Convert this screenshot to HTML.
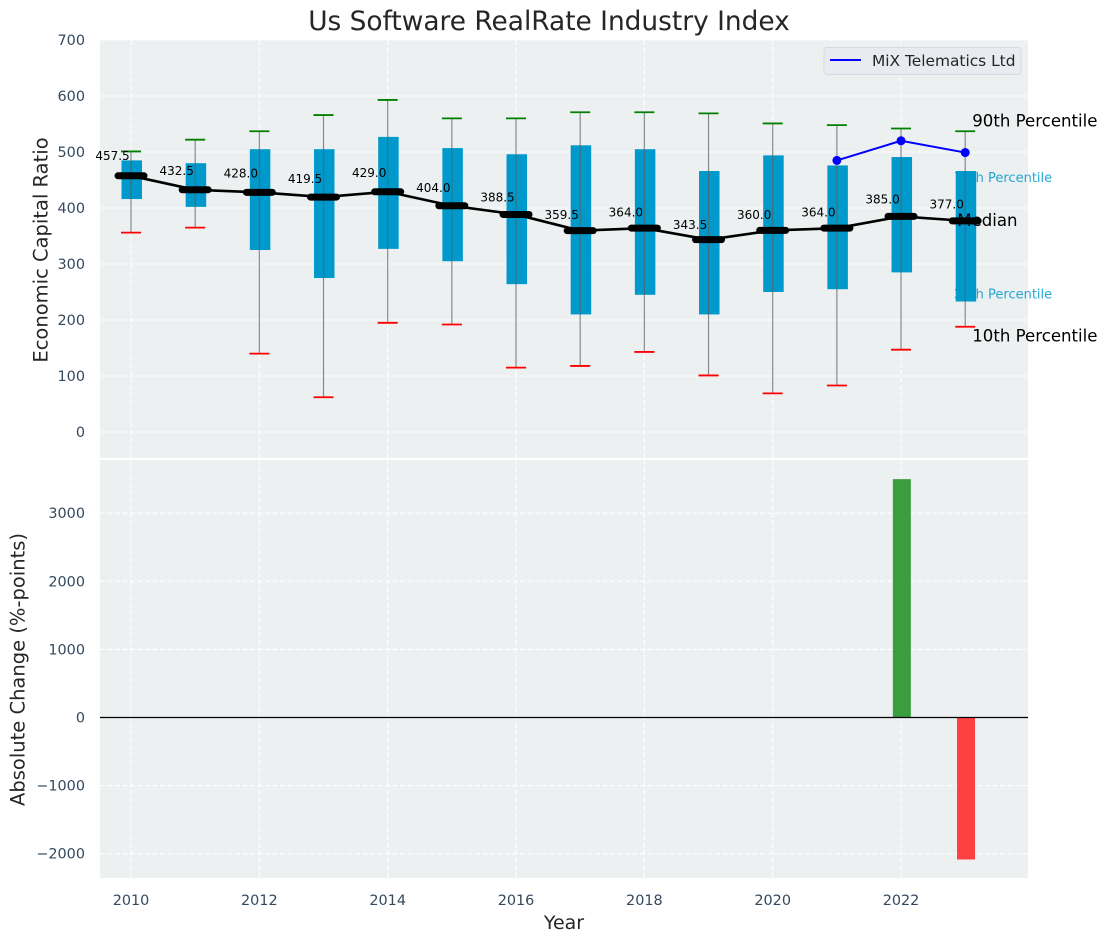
<!DOCTYPE html>
<html>
<head>
<meta charset="utf-8">
<title>Us Software RealRate Industry Index</title>
<style>
html,body{margin:0;padding:0;background:#fff;width:1107px;height:942px;overflow:hidden}
svg{display:block}
text{font-family:"DejaVu Sans","Liberation Sans",sans-serif}
</style>
</head>
<body>
<svg id="chart" width="1107" height="942" viewBox="0 0 1107 942" xmlns="http://www.w3.org/2000/svg">
<rect x="100" y="40" width="928" height="418" fill="#ecf0f1"/>
<rect x="100" y="460" width="928" height="418" fill="#ecf0f1"/>
<g id="grid"></g>
<g id="under"></g>
<g id="boxes"></g>
<g id="overlay"></g>
<text x="549" y="30" text-anchor="middle" font-size="26.4" fill="#262626">Us Software RealRate Industry Index</text>
<text x="564" y="929" text-anchor="middle" font-size="19" fill="#262626">Year</text>
<text transform="translate(47.5,250) rotate(-90)" text-anchor="middle" font-size="19.5" fill="#262626">Economic Capital Ratio</text>
<text transform="translate(24.5,669.5) rotate(-90)" text-anchor="middle" font-size="19.5" fill="#262626">Absolute Change (%-points)</text>
<g>
<rect x="824" y="47.5" width="197" height="27" rx="3" fill="#e9ebf0" stroke="#d6d9e0"/>
<line x1="830" x2="861" y1="60" y2="60" stroke="#0000ff" stroke-width="2"/>
<text x="872" y="66" font-size="15.4" fill="#262626">MiX Telematics Ltd</text>
</g>
</svg>
<script>
var years = [2010,2011,2012,2013,2014,2015,2016,2017,2018,2019,2020,2021,2022,2023];
var p90 = [501,522,537,566,593,560,560,571,571,569,551,548,542,537];
var q3 = [485,480,505,505,527,507,496,512,505,466,494,476,491,466];
var medians = [457.5,432.5,428,419.5,429,404,388.5,359.5,364,343.5,360,364,385,377];
var q1 = [416,402,325,275,327,305,264,210,245,210,250,255,285,233];
var p10 = [356,365,140,62,195,192,115,118,143,101,69,83,147,188];
var mixYears = [2021,2022,2023];
var mixValues = [485,520,499];
var changeYears = [2022,2023];
var changeValues = [3500,-2085];
var topTicks = [0,100,200,300,400,500,600,700];
var bottomTicks = [-2000,-1000,0,1000,2000,3000];
var xTicks = [2010,2012,2014,2016,2018,2020,2022];

function xScale(v){ return 131 + (v - 2010) * 64.17; }
function yTop(v){ return 432 - v * 0.56; }
function yBottom(v){ return 717.5 - v * 0.0681; }

var NS = 'http://www.w3.org/2000/svg';
function make(parent, tag, attrs, txt){
  var el = document.createElementNS(NS, tag);
  for (var k in attrs) el.setAttribute(k, attrs[k]);
  if (txt !== undefined) el.textContent = txt;
  document.getElementById(parent).appendChild(el);
  return el;
}
var el, i;
var GRID = {stroke:'#ffffff','stroke-width':1.1,'stroke-dasharray':'5 2.5','stroke-opacity':0.95};
function gridAttrs(a){ for (var k in GRID) a[k] = GRID[k]; return a; }

xTicks.forEach(function(t){
  var x = xScale(t);
  el = make('grid','line',gridAttrs({x1:x,x2:x,y1:40,y2:458}));
  
  
  el = make('grid','line',gridAttrs({x1:x,x2:x,y1:460,y2:878}));
  
  
  el = make('grid','text',{x:x,y:905,'text-anchor':'middle','font-size':14.4,fill:'#34495e'},String(t));
  
  
});
topTicks.forEach(function(t){
  var y = yTop(t);
  el = make('grid','line',gridAttrs({x1:100,x2:1028,y1:y,y2:y}));
  
  
  el = make('grid','text',{x:85,y:y+5,'text-anchor':'end','font-size':14.4,fill:'#34495e'},String(t));
  
  
});
bottomTicks.forEach(function(t){
  var y = yBottom(t);
  el = make('grid','line',gridAttrs({x1:100,x2:1028,y1:y,y2:y}));
  
  
  el = make('grid','text',{x:85,y:y+5,'text-anchor':'end','font-size':14.4,fill:'#34495e'},(t < 0 ? '\u2212' + Math.abs(t) : String(t)));
  
  
});

/* percentile annotations; the two cyan ones sit behind the last box */
el = make('under','text',{x:954,y:yTop(q3[13])+11,'font-size':13,fill:'#0099cc','fill-opacity':0.85},'75th Percentile');


el = make('under','text',{x:954,y:yTop(q1[13])-3,'font-size':13,fill:'#0099cc','fill-opacity':0.85},'25th Percentile');



for (i = 0; i < years.length; i++){
  var x = xScale(years[i]);
  el = make('boxes','rect',{x:x-9.5,y:yTop(q3[i]),width:20.5,height:yTop(q1[i])-yTop(q3[i]),fill:'#0099cc'});
  
  
  el = make('boxes','line',{x1:x,x2:x,y1:yTop(p10[i]),y2:yTop(p90[i]),stroke:'#555f60','stroke-opacity':0.7,'stroke-width':1.2});
  
  
  el = make('boxes','line',{x1:x-10,x2:x+10,y1:yTop(p90[i]),y2:yTop(p90[i]),stroke:'#008000','stroke-width':1.8});
  
  
  el = make('boxes','line',{x1:x-10,x2:x+10,y1:yTop(p10[i]),y2:yTop(p10[i]),stroke:'#ff0000','stroke-width':1.8});
  
  
}

var medianPts = years.map(function(y,j){ return xScale(y) + ',' + yTop(medians[j]); }).join(' ');
el = make('overlay','polyline',{points:medianPts,fill:'none',stroke:'#000000','stroke-width':2.6});


for (i = 0; i < years.length; i++){
  var mx = xScale(years[i]), my = yTop(medians[i]);
  el = make('overlay','line',{x1:mx-13,x2:mx+13,y1:my,y2:my,stroke:'#000000','stroke-width':7,'stroke-linecap':'round'});
  
  
  el = make('overlay','text',{x:mx-18.5,y:yTop(medians[i]*1.08)+4.5,'text-anchor':'middle','font-size':12,fill:'#000000'},medians[i].toFixed(1));
  
  
}

var mixPts = mixYears.map(function(y,j){ return xScale(y) + ',' + yTop(mixValues[j]); }).join(' ');
el = make('overlay','polyline',{points:mixPts,fill:'none',stroke:'#0000ff','stroke-width':2});


mixYears.forEach(function(y,j){
  el = make('overlay','circle',{cx:xScale(y),cy:yTop(mixValues[j]),r:4.5,fill:'#0000ff'});
  
  
});

var lastX = xScale(years[13]);
el = make('overlay','text',{x:lastX+7,y:yTop(p90[13])-5,'font-size':16.6,fill:'#000000'},'90th Percentile');


el = make('overlay','text',{x:lastX-8,y:yTop(medians[13])+5,'font-size':16.6,fill:'#000000'},'Median');


el = make('overlay','text',{x:lastX+7,y:yTop(p10[13])+15,'font-size':16.6,fill:'#000000'},'10th Percentile');



changeYears.forEach(function(y,j){
  var v = changeValues[j];
  var top = Math.min(yBottom(v), yBottom(0));
  var h = Math.abs(yBottom(v) - yBottom(0));
  el = make('overlay','rect',{x:xScale(y)-8.2,y:top,width:18,height:h,fill:(v >= 0 ? '#3a9d3e' : '#ff4040')});
  
  
});
el = make('overlay','line',{x1:100,x2:1028,y1:yBottom(0),y2:yBottom(0),stroke:'#000000','stroke-width':1.2});


</script>
</body>
</html>
